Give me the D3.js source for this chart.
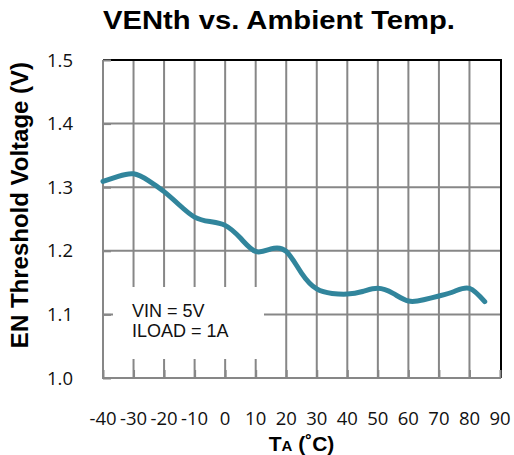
<!DOCTYPE html>
<html><head><meta charset="utf-8">
<script src="https://cdn.jsdelivr.net/npm/d3@7"></script>
<style>
html,body{margin:0;padding:0;background:#fff;}
svg{display:block;}
</style>
</head><body>
<div id="chart"></div>
<script>
const titleText = "VENth vs. Ambient Temp.";
const yTitle = "EN Threshold Voltage (V)";
const xTicks = [-40,-30,-20,-10,0,10,20,30,40,50,60,70,80,90];
const yTicks = [1.0,1.1,1.2,1.3,1.4,1.5];
const temps = [-40,-35,-30,-25,-20,-15,-10,-5,0,5,10,15,20,25,30,35,40,45,50,55,60,65,70,75,80,85];
const vth   = [1.309,1.317,1.321,1.310,1.293,1.272,1.253,1.246,1.240,1.220,1.199,1.203,1.199,1.165,1.140,1.133,1.132,1.136,1.141,1.133,1.121,1.123,1.129,1.136,1.141,1.120];
const noteLines = ["VIN = 5V","ILOAD = 1A"];

const W=514,H=455;
const L=103,R=500,T=60,B=378;
const svg=d3.select("#chart").append("svg").attr("width",W).attr("height",H);
const x=d3.scaleLinear().domain([-40,90]).range([L,R]);
const y=d3.scaleLinear().domain([1.0,1.5]).range([B,T]);
const grid="#878787";

// grid
svg.append("g").selectAll("line").data(xTicks.filter(t=>t>-40&&t<90)).join("line")
  .attr("x1",d=>x(d)).attr("x2",d=>x(d)).attr("y1",T).attr("y2",B)
  .attr("stroke",grid).attr("stroke-width",2);
svg.append("g").selectAll("line").data(yTicks.filter(t=>t>1.0&&t<1.5)).join("line")
  .attr("x1",L).attr("x2",R).attr("y1",d=>y(d)).attr("y2",d=>y(d))
  .attr("stroke",grid).attr("stroke-width",2);

// frame top/right black
svg.append("path").attr("d",`M${L},${T}H${R+1}V${B}`).attr("fill","none").attr("stroke","#000").attr("stroke-width",2);

// axes gray with inward ticks
const yAxis=d3.axisLeft(y).tickValues(yTicks).tickSize(-8).tickFormat("");
const gy=svg.append("g").attr("transform",`translate(${L},0)`).call(yAxis);
gy.selectAll("line,path").attr("stroke",grid).attr("stroke-width",2);
gy.select(".domain").attr("d",`M0,${T}V${B}`);
const xAxis=d3.axisBottom(x).tickValues(xTicks).tickSize(-8).tickFormat("");
const gx=svg.append("g").attr("transform",`translate(0,${B})`).call(xAxis);
gx.selectAll("line,path").attr("stroke",grid).attr("stroke-width",2);
gx.select(".domain").attr("d",`M${L-1},0H${R+1}`);

// note box
svg.append("rect").attr("x",113).attr("y",287).attr("width",151).attr("height",72).attr("fill","#fff");
svg.append("g").selectAll("text").data(noteLines).join("text")
  .attr("x",132).attr("y",(d,i)=>317+i*20)
  .attr("font-family","Liberation Sans, Arial, sans-serif").attr("font-size",18).attr("fill","#111")
  .text(d=>d);

// line
const line=d3.line().x((d,i)=>x(temps[i])).y(d=>y(d)).curve(d3.curveNatural);
svg.append("path").attr("d",line(vth)).attr("fill","none").attr("stroke","#31859C")
  .attr("stroke-width",5).attr("stroke-linecap","round").attr("stroke-linejoin","round");

// tick labels
svg.append("g").selectAll("text").data(yTicks).join("text")
  .attr("x",73).attr("y",d=>y(d)+6.5).attr("text-anchor","end")
  .attr("font-family","Open Sans, sans-serif").attr("font-size",18.5).attr("fill","#111")
  .text(d=>d.toFixed(1));
svg.append("g").selectAll("text").data(xTicks).join("text")
  .attr("x",d=>x(d)).attr("y",425).attr("text-anchor","middle")
  .attr("font-family","Open Sans, sans-serif").attr("font-size",18.5).attr("fill","#111")
  .text(d=>d);

// titles
svg.append("text").attr("x",279).attr("y",29).attr("text-anchor","middle")
  .attr("font-family","Liberation Sans, Arial, sans-serif").attr("font-weight","bold").attr("font-size",26)
  .attr("textLength",352).attr("lengthAdjust","spacingAndGlyphs").text(titleText);
svg.append("text").attr("transform",`translate(28,205) rotate(-90)`).attr("text-anchor","middle")
  .attr("font-family","Liberation Sans, Arial, sans-serif").attr("font-weight","bold").attr("font-size",24)
  .text(yTitle);
const xt=svg.append("text").attr("x",301.5).attr("y",451).attr("text-anchor","middle")
  .attr("font-family","Liberation Sans, Arial, sans-serif").attr("font-weight","bold").attr("font-size",21);
xt.append("tspan").text("T");
xt.append("tspan").attr("font-size",15).text("A");
xt.append("tspan").text(" (˚C)");
</script>
</body></html>
